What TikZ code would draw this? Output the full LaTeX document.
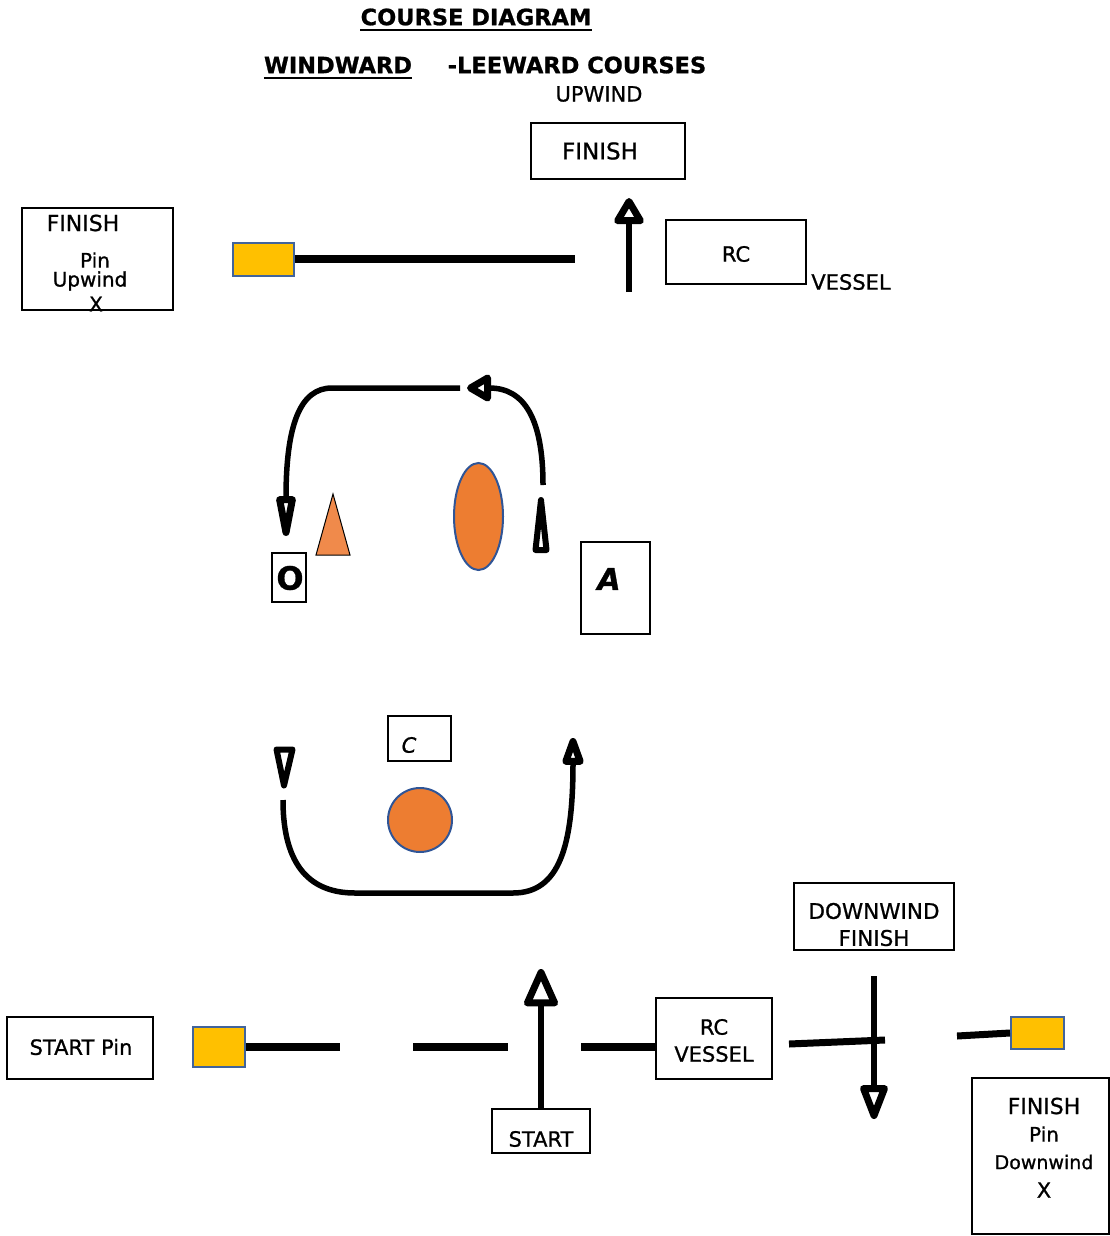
\documentclass[tikz,border=0pt]{standalone}
\usepackage{fontspec}
\setmainfont{DejaVu Sans}[FakeBold=0.9]
\usetikzlibrary{arrows.meta}
\definecolor{pinyellow}{HTML}{FFC000}
\definecolor{pinblue}{HTML}{41649C}
\definecolor{markorange}{HTML}{ED7D31}
\definecolor{markorangelight}{HTML}{F08A4B}
\definecolor{markblue}{HTML}{2F5597}
\newcommand{\myfs}[1]{\fontsize{#1}{#1}\selectfont}
\begin{document}
\begin{tikzpicture}[x=1pt,y=-1pt,
  box/.style={draw=black,line width=2pt,inner sep=0pt},
  txt/.style={inner sep=0pt,anchor=center},
  pinbox/.style={draw=pinblue,fill=pinyellow,line width=2pt,inner sep=0pt},
  lineB/.style={line width=8pt},
  shaft/.style={line width=5.5pt},
  headtri/.style={line width=6pt,line join=round,fill=white},
  title/.style={txt,font=\myfs{22.5}\bfseries},
  uline/.style={line width=1.8pt}
]
\useasboundingbox (0,0) rectangle (1110,1236);

% ---- titles ----
\node[title] (t1) at (476,17) {COURSE DIAGRAM};
\draw[uline] ([yshift=-5pt]t1.base west) -- ([yshift=-5pt]t1.base east);
\node[title] (t2) at (338,65) {WINDWARD};
\draw[uline] ([yshift=-5pt]t2.base west) -- ([yshift=-5pt]t2.base east);
\node[title] (t3) at (577,65) {-LEEWARD COURSES};
\node[txt,font=\myfs{21}] (upw) at (599,94) {UPWIND};

% ---- upwind finish ----
\node[box,minimum width=154pt,minimum height=56pt] (finU) at (608,151) {};
\node[txt,font=\myfs{23}] (finUt) at (600,151) {FINISH};
\coordinate (a1s) at (629,292);
\coordinate (a1e) at (629,198);
\draw[shaft,-{Triangle[open,round,line width=7pt,length=30pt,width=33pt]}] (a1s) -- (a1e);
\node[box,minimum width=140pt,minimum height=64pt] (rcU) at (736,252) {};
\node[txt,font=\myfs{21}] (rcUt) at (736,254) {RC};
\node[txt,font=\myfs{21}] (vesU) at (851,282) {VESSEL};

\node[box,minimum width=151pt,minimum height=102pt] (finL) at (97.5,259) {};
\node[txt,font=\myfs{22}] (finLa) at (83,223) {FINISH};
\node[txt,font=\myfs{20}] (finLb) at (95,260) {Pin};
\node[txt,font=\myfs{20}] (finLc) at (90,281) {Upwind};
\node[txt,font=\myfs{20}] (finLd) at (96,304) {X};

\node[pinbox,minimum width=61pt,minimum height=33pt] (pinU) at (263.5,259) {};
\coordinate (l1e) at (575,259);
\draw[lineB] (pinU.east) -- (l1e);

% ---- offset / A loop ----
\coordinate (cA1) at (543,485);
\coordinate (cA2) at (467,388);
\draw[shaft,-{Triangle[open,round,line width=7pt,length=28pt,width=30pt]}] (cA1) .. controls (543,420) and (525,388) .. (cA2);
\coordinate (cB1) at (460,388);
\coordinate (cB2) at (286,536);
\draw[shaft,-{Triangle[open,round,line width=7pt,length=58pt,width=19pt]}] (cB1) -- (332,388) .. controls (300,388) and (286,425) .. (cB2);
\draw[headtri] (541,500) -- (546.5,550) -- (535.5,550) -- cycle;

\draw[fill=markorangelight,draw=black,line width=1pt] (333,494) -- (350,555) -- (316,555) -- cycle;
\draw[fill=markorange,draw=markblue,line width=2pt] (478.5,516.5) ellipse [x radius=24.5, y radius=53.5];

\node[box,minimum width=34pt,minimum height=49pt] (oB) at (289,577.5) {};
\node[txt,font=\myfs{32}\bfseries] (oT) at (290,578) {O};
\node[box,minimum width=69pt,minimum height=92pt] (aB) at (615.5,588) {};
\node[txt,font=\myfs{30}\bfseries\itshape] (aT) at (609,579) {A};

% ---- C loop ----
\draw[headtri] (276.5,749.5) -- (292.5,749.5) -- (284,785.5) -- cycle;
\coordinate (lp1) at (283,800);
\coordinate (lp2) at (573,738);
\draw[shaft,-{Triangle[open,round,line width=7pt,length=35pt,width=22pt]}] (lp1) .. controls (283,868) and (312,893) .. (355,893) -- (513,893) .. controls (560,893) and (573,845) .. (lp2);
\node[box,minimum width=63pt,minimum height=45pt] (cB) at (419.5,738.5) {};
\node[txt,font=\myfs{21}\itshape] (cT) at (409,745) {C};
\draw[fill=markorange,draw=markblue,line width=2pt] (420,820) circle [radius=32];

% ---- start line ----
\node[box,minimum width=146pt,minimum height=62pt] (stP) at (80,1048) {};
\node[txt,font=\myfs{21}] (stPt) at (81,1047) {START Pin};
\node[pinbox,minimum width=52pt,minimum height=40pt] (pinL) at (219,1047) {};
\coordinate (s1e) at (340,1047);
\draw[lineB] (pinL.east) -- (s1e);
\coordinate (s2a) at (413,1047);
\coordinate (s2b) at (508,1047);
\draw[lineB] (s2a) -- (s2b);
\node[box,minimum width=116pt,minimum height=81pt] (rcL) at (714,1038.5) {};
\node[txt,font=\myfs{21}] (rcLa) at (714,1027) {RC};
\node[txt,font=\myfs{21}] (rcLb) at (714,1054) {VESSEL};
\coordinate (s3a) at (581,1047);
\draw[lineB] (s3a) -- (s3a -| rcL.west);

\node[box,minimum width=98pt,minimum height=44pt] (stB) at (541,1131) {};
\node[txt,font=\myfs{21}] (stBt) at (541,1139) {START};
\coordinate (sa) at (541,969);
\draw[shaft,-{Triangle[open,round,line width=7pt,length=43pt,width=36pt]}] (stB.north) -- (sa);

% ---- downwind finish ----
\coordinate (sl1) at (789,1044);
\coordinate (sl2) at (885,1040);
\draw[line width=7pt] (sl1) -- (sl2);
\node[box,minimum width=160pt,minimum height=67pt] (dwB) at (874,916.5) {};
\node[txt,font=\myfs{21.5}] (dwa) at (874,911) {DOWNWIND};
\node[txt,font=\myfs{21.5}] (dwb) at (874,938) {FINISH};
\coordinate (da1) at (874,976);
\coordinate (da2) at (874,1119);
\draw[shaft,-{Triangle[open,round,line width=7pt,length=41pt,width=29pt]}] (da1) -- (da2);

\node[pinbox,minimum width=53pt,minimum height=32pt] (pinR) at (1037.5,1033) {};
\coordinate (s4a) at (957,1036);
\draw[line width=7pt] (s4a) -- (pinR.west);

\node[box,minimum width=137pt,minimum height=156pt] (finR) at (1040.5,1156) {};
\node[txt,font=\myfs{22}] (finRa) at (1044,1106) {FINISH};
\node[txt,font=\myfs{20}] (finRb) at (1044,1134) {Pin};
\node[txt,font=\myfs{19}] (finRc) at (1044,1162) {Downwind};
\node[txt,font=\myfs{21}] (finRd) at (1044,1190) {X};
\end{tikzpicture}
\end{document}
